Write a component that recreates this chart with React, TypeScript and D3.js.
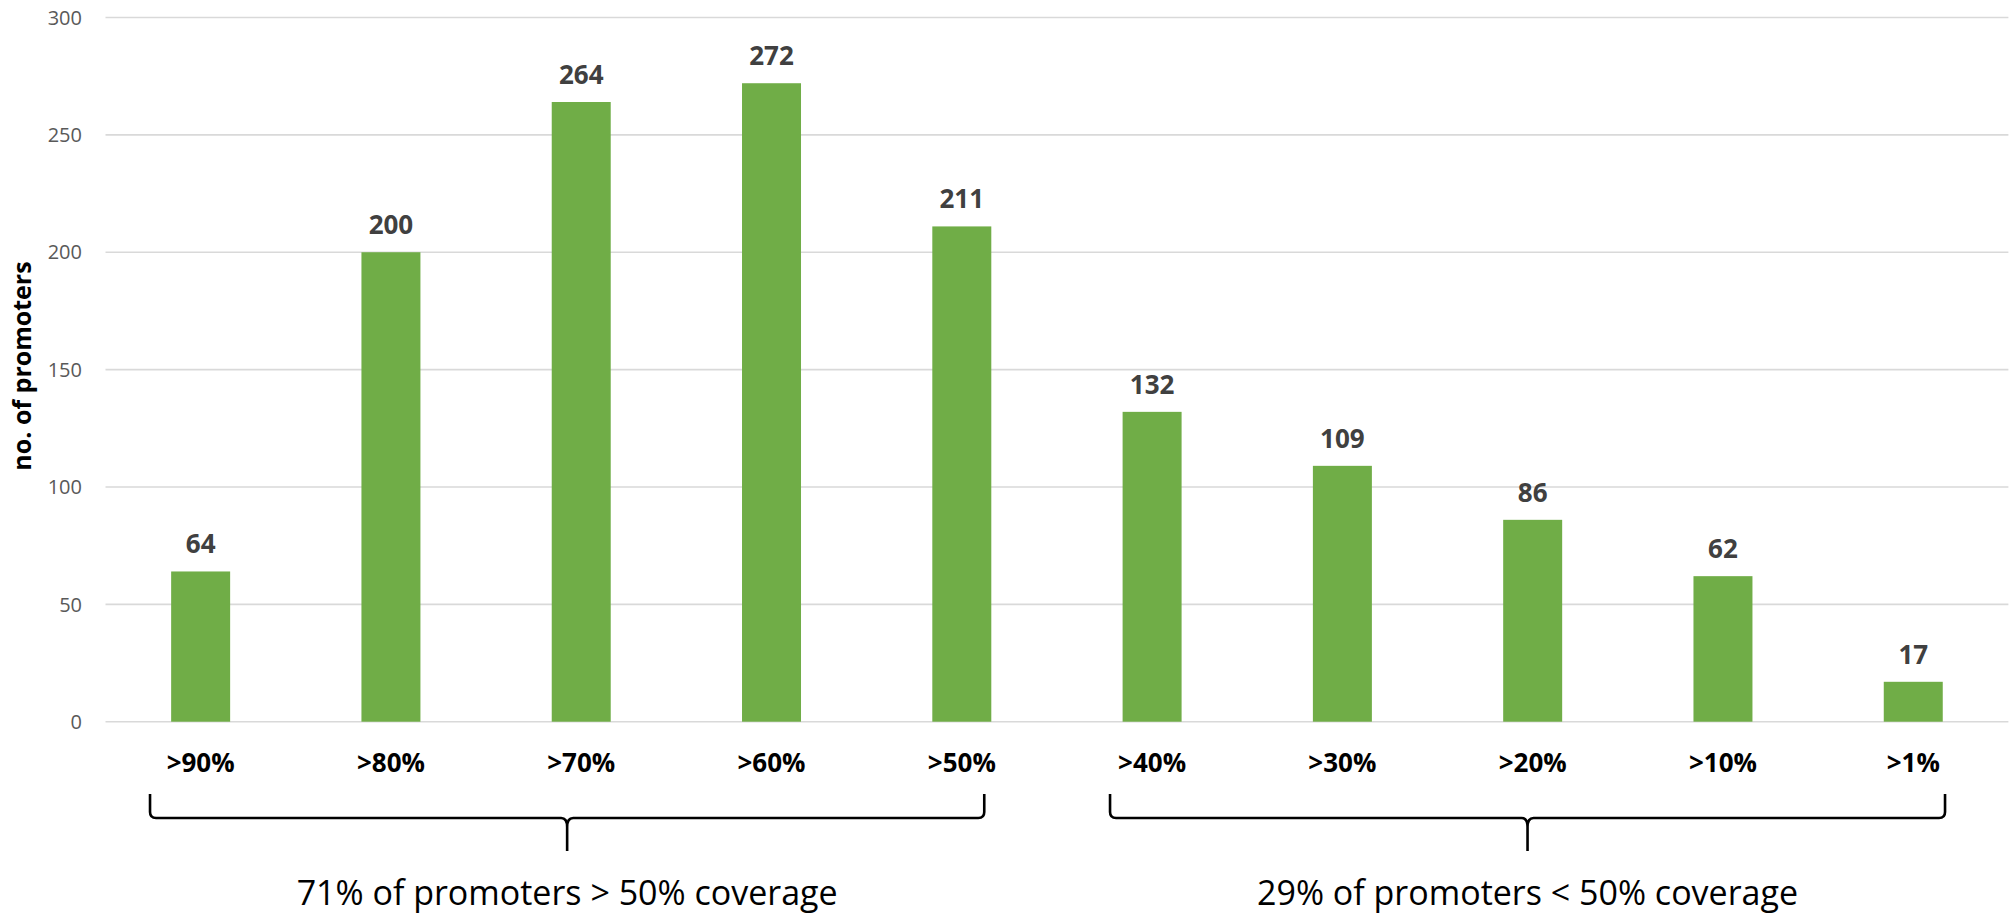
import React from "react";
import * as d3 from "d3";

const categories = [">90%", ">80%", ">70%", ">60%", ">50%", ">40%", ">30%", ">20%", ">10%", ">1%"];
const promoterCounts = [64, 200, 264, 272, 211, 132, 109, 86, 62, 17];
const yTicks = [0, 50, 100, 150, 200, 250, 300];
const groupLabels = ["71% of promoters > 50% coverage", "29% of promoters < 50% coverage"];
const groupRanges: [number, number][] = [
  [0, 4],
  [5, 9],
];

const WIDTH = 2013;
const HEIGHT = 915;
const FONT = "'Open Sans', 'Noto Sans', sans-serif";

// how far each brace reaches past its first / last bar centre, in band steps
const braceReach: [number, number][] = [
  [0.266, 0.118],
  [0.221, 0.167],
];

export default function App() {
  const x = d3
    .scaleBand<string>()
    .domain(categories)
    .range([105.5, 2008.4])
    .paddingInner(0.69)
    .paddingOuter(0.345);
  const y = d3.scaleLinear().domain([0, 300]).range([721.7, 17.5]);
  const bw = x.bandwidth();
  const step = x.step();

  const cx = (i: number) => (x(categories[i]) ?? 0) + bw / 2;

  // curly-brace path spanning a group of categories
  const bracePath = (x0: number, x1: number) => {
    const top = 794;
    const mid = 818;
    const tip = 851;
    const r = 6;
    const xm = (x0 + x1) / 2;
    return [
      `M${x0},${top}`,
      `L${x0},${mid - r}`,
      `Q${x0},${mid} ${x0 + r},${mid}`,
      `L${xm - r},${mid}`,
      `Q${xm},${mid} ${xm},${mid + 9}`,
      `L${xm},${tip}`,
      `M${xm},${mid + 9}`,
      `Q${xm},${mid} ${xm + r},${mid}`,
      `L${x1 - r},${mid}`,
      `Q${x1},${mid} ${x1},${mid - r}`,
      `L${x1},${top}`,
    ].join(" ");
  };

  return (
    <svg
      width={WIDTH}
      height={HEIGHT}
      style={{ position: "absolute", left: 0, top: 0, background: "#fff" }}
      fontFamily={FONT}
    >
      {/* gridlines */}
      {yTicks.map((t) => (
        <line
          key={`g${t}`}
          x1={105.5}
          x2={2008.4}
          y1={y(t)}
          y2={y(t)}
          stroke="#D9D9D9"
          strokeWidth={1.6}
        />
      ))}
      {/* y tick labels */}
      {yTicks.map((t) => (
        <text
          key={`t${t}`}
          x={82}
          y={y(t)}
          dy="0.36em"
          textAnchor="end"
          fontSize={20}
          fill="#595959"
        >
          {t}
        </text>
      ))}
      {/* y axis title */}
      <text
        transform={`translate(31,366) rotate(-90)`}
        textAnchor="middle"
        fontSize={25}
        fontWeight="bold"
        fill="#000"
      >
        no. of promoters
      </text>
      {/* bars */}
      {categories.map((c, i) => (
        <rect
          key={`b${c}`}
          x={x(c)}
          y={y(promoterCounts[i])}
          width={bw}
          height={y(0) - y(promoterCounts[i])}
          fill="#70AD47"
        />
      ))}
      {/* value labels */}
      {categories.map((c, i) => (
        <text
          key={`v${c}`}
          x={cx(i)}
          y={y(promoterCounts[i]) - 18}
          textAnchor="middle"
          fontSize={26}
          fontWeight="bold"
          fill="#404040"
        >
          {promoterCounts[i]}
        </text>
      ))}
      {/* category labels */}
      {categories.map((c, i) => (
        <text
          key={`c${c}`}
          x={cx(i)}
          y={772}
          textAnchor="middle"
          fontSize={26}
          fontWeight="bold"
          fill="#000"
        >
          {c}
        </text>
      ))}
      {/* group braces and captions */}
      {groupRanges.map(([a, b], gi) => {
        const x0 = cx(a) - step * braceReach[gi][0];
        const x1 = cx(b) + step * braceReach[gi][1];
        const xm = (x0 + x1) / 2;
        return (
          <g key={`grp${gi}`}>
            <path d={bracePath(x0, x1)} fill="none" stroke="#000" strokeWidth={2.6} />
            <text x={xm} y={905} textAnchor="middle" fontSize={34} fill="#000">
              {groupLabels[gi]}
            </text>
          </g>
        );
      })}
    </svg>
  );
}
